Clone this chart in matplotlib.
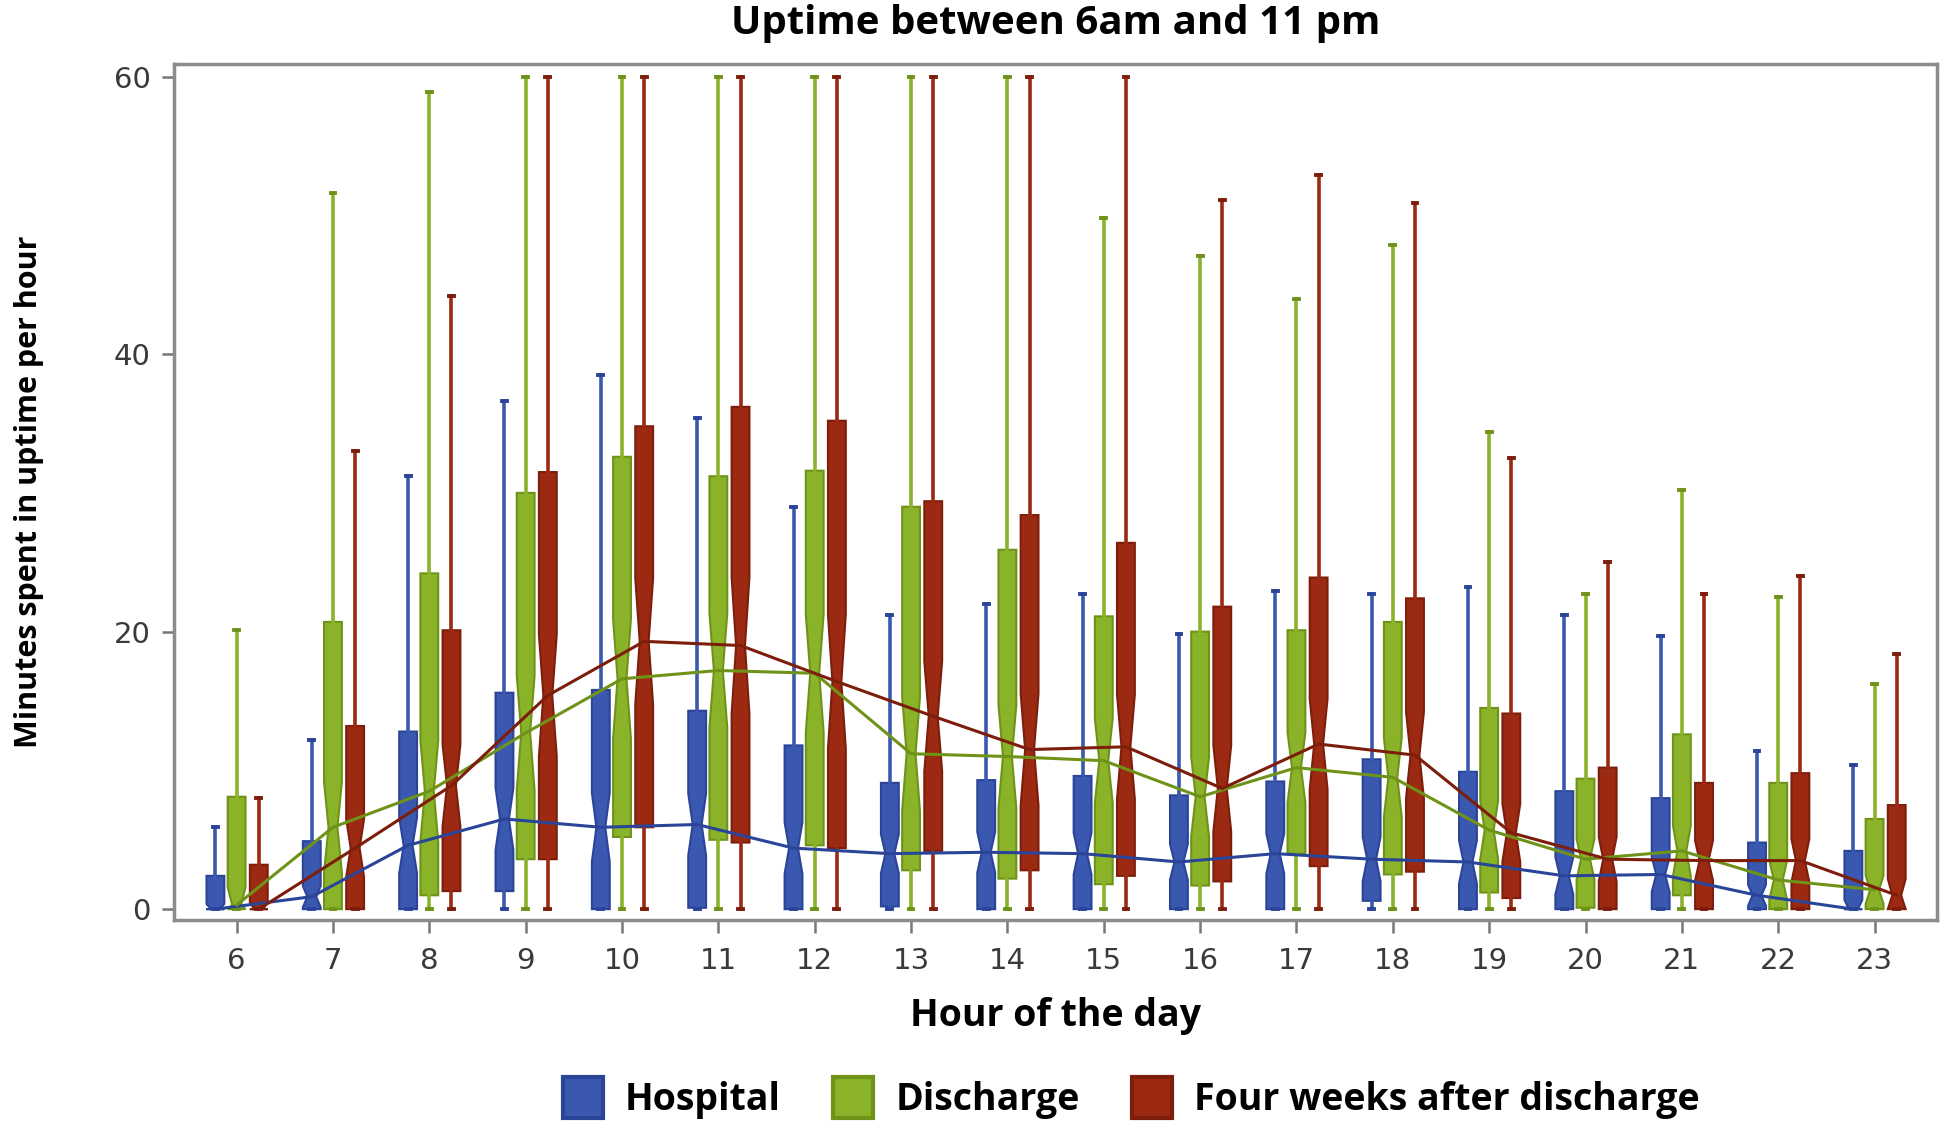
import matplotlib
matplotlib.use("Agg")
import matplotlib.pyplot as plt
from matplotlib.patches import Patch
import numpy as np

hours = list(range(6, 24))
groups = ["Hospital", "Discharge", "Four weeks after discharge"]

# Hospital
hosp_q1   = [0, 0, 0, 1.3, 0, 0.1, 0, 0.2, 0, 0, 0, 0, 0.6, 0, 0, 0, 0, 0]
hosp_med  = [0, 0.9, 4.6, 6.5, 5.9, 6.1, 4.4, 4.0, 4.1, 4.0, 3.4, 4.0, 3.6, 3.4, 2.4, 2.5, 1.0, 0]
hosp_q3   = [2.4, 4.9, 12.8, 15.6, 15.8, 14.3, 11.8, 9.1, 9.3, 9.6, 8.2, 9.2, 10.8, 9.9, 8.5, 8.0, 4.8, 4.2]
hosp_whi  = [5.9, 12.2, 31.2, 36.6, 38.5, 35.4, 29.0, 21.2, 22.0, 22.7, 19.8, 22.9, 22.7, 23.2, 21.2, 19.7, 11.4, 10.4]

# Discharge
dis_q1    = [0, 0, 1.0, 3.6, 5.2, 5.0, 4.6, 2.8, 2.2, 1.8, 1.7, 4.0, 2.5, 1.2, 0.1, 1.0, 0, 0]
dis_med   = [0.3, 5.9, 8.5, 12.7, 16.6, 17.2, 17.0, 11.2, 11.0, 10.7, 8.1, 10.2, 9.5, 5.7, 3.6, 4.2, 2.1, 1.4]
dis_q3    = [8.1, 20.7, 24.2, 30.0, 32.6, 31.2, 31.6, 29.0, 25.9, 21.1, 20.0, 20.1, 20.7, 14.5, 9.4, 12.6, 9.1, 6.5]
dis_whi   = [20.1, 51.6, 58.9, 60, 60, 60, 60, 60, 60, 49.8, 47.1, 44.0, 47.9, 34.4, 22.7, 30.2, 22.5, 16.2]

# Four weeks after discharge
four_q1   = [0, 0, 1.3, 3.6, 5.9, 4.8, 4.4, 4.2, 2.8, 2.4, 2.0, 3.1, 2.7, 0.8, 0, 0, 0, 0]
four_med  = [0, 4.4, 8.9, 15.4, 19.3, 19.0, 16.4, 13.9, 11.5, 11.7, 8.7, 11.9, 11.1, 5.5, 3.6, 3.5, 3.5, 1.0]
four_q3   = [3.2, 13.2, 20.1, 31.5, 34.8, 36.2, 35.2, 29.4, 28.4, 26.4, 21.8, 23.9, 22.4, 14.1, 10.2, 9.1, 9.8, 7.5]
four_whi  = [8.0, 33.0, 44.2, 60, 60, 60, 60, 60, 60, 60, 51.1, 52.9, 50.9, 32.5, 25.0, 22.7, 24.0, 18.4]

whisker_low = 0
n_obs = 100  # sample size used for notch (median CI) width

series = [
    (hosp_q1, hosp_med, hosp_q3, hosp_whi),
    (dis_q1, dis_med, dis_q3, dis_whi),
    (four_q1, four_med, four_q3, four_whi),
]
fills = ["#3A58AF", "#8AB32A", "#9C2A12"]
edges = ["#2A4498", "#6F9318", "#7C1E0B"]
offsets = [-0.22, 0.0, 0.23]

fig = plt.figure(figsize=(19.44, 11.25), dpi=100)
ax = fig.add_axes([0.0895, 0.182, 0.907, 0.761])

for (q1s, meds, q3s, whis), fc, ec, off in zip(series, fills, edges, offsets):
    stats = []
    for q1, med, q3, wh in zip(q1s, meds, q3s, whis):
        half = 1.57 * (q3 - q1) / np.sqrt(n_obs)
        stats.append(dict(med=med, q1=q1, q3=q3, whislo=whisker_low, whishi=wh,
                          cilo=max(q1, med - half), cihi=min(q3, med + half), fliers=[]))
    pos = [h + off for h in hours]
    ax.bxp(stats, positions=pos, widths=0.185, shownotches=True, patch_artist=True,
           showfliers=False, capwidths=0.05,
           boxprops=dict(facecolor=fc, edgecolor=ec, linewidth=1.5),
           medianprops=dict(color=fc, linewidth=0),
           whiskerprops=dict(color=fc, linewidth=2.6),
           capprops=dict(color=ec, linewidth=2.8),
           manage_ticks=False, zorder=2)
    ax.plot(pos, meds, color=ec, linewidth=2.2, zorder=3)

ax.set_xlim(5.35, 23.65)
ax.set_ylim(-0.8, 60.9)
ax.set_xticks(hours)
ax.set_xticklabels([str(h) for h in hours])
ax.set_yticks([0, 20, 40, 60])
for sp in ax.spines.values():
    sp.set_color("#8C8C8C")
    sp.set_linewidth(2.5)
ax.tick_params(axis="both", colors="#777777", width=1.8, length=9, labelsize=21,
               labelcolor="#3A3A3A")
ax.tick_params(axis="x", pad=10)
ax.tick_params(axis="y", pad=8)

bold_font = ["Open Sans", "DejaVu Sans"]
fig.text(0.543, 0.979, "Uptime between 6am and 11 pm", ha="center", va="center",
         fontsize=29, fontweight="bold", family=bold_font)
ax.set_xlabel("Hour of the day", fontsize=27, fontweight="bold", family=bold_font, labelpad=16)
ax.set_ylabel("Minutes spent in uptime per hour", fontsize=22, fontweight="bold",
              family=bold_font, va="center")
ax.yaxis.set_label_coords(-0.082, 0.50)

handles = [Patch(facecolor=fc, edgecolor=ec, linewidth=3, label=g)
           for g, fc, ec in zip(groups, fills, edges)]
fig.legend(handles=handles, loc="center", bbox_to_anchor=(0.582, 0.024), ncol=3,
           frameon=False, handlelength=1.05, handleheight=1.3, handletextpad=0.6,
           columnspacing=1.4, prop=dict(family=bold_font, weight="bold", size=27))

fig.savefig("out.png", dpi=100)
